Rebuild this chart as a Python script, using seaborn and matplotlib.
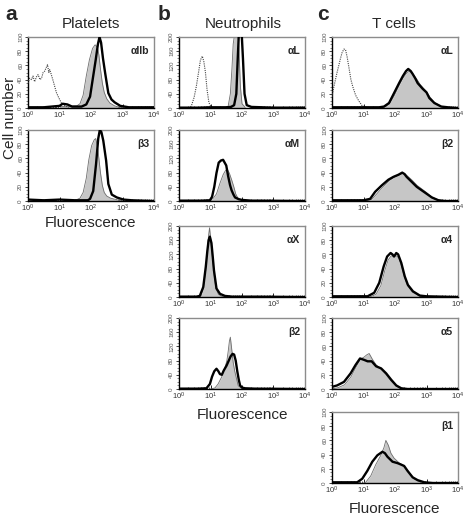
import numpy as np
import seaborn as sns
import matplotlib.pyplot as plt
from matplotlib.ticker import LogLocator, MultipleLocator, NullFormatter

# x values are decades (log10 of fluorescence), y values are cell counts

# --- a: Platelets ---
A1_CTRL_X = [0.0, 0.05, 0.11, 0.16, 0.21, 0.27, 0.32, 0.38, 0.43, 0.48, 0.53, 0.58, 0.62, 0.66,
             0.69, 0.74, 0.80, 0.85, 0.90, 0.96, 1.06, 1.17, 1.3]
A1_CTRL_Y = [35, 42, 40, 45, 37, 44, 47, 40, 42, 50, 52, 57, 61, 50, 54, 47, 38, 30, 22, 16, 7, 3, 1]
A1_GRAY_X = [1.0, 1.55, 1.65, 1.75, 1.85, 1.95, 2.05, 2.13, 2.20, 2.25, 2.30, 2.36, 2.42, 2.5,
             2.6, 2.75, 2.9, 4.0]
A1_GRAY_Y = [2, 3, 6, 18, 45, 68, 84, 89, 86, 75, 55, 35, 22, 13, 7, 3, 1, 0]
A1_BLACK_X = [0.0, 0.5, 1.0, 1.1, 1.25, 1.4, 1.7, 1.85, 1.97, 2.07, 2.15, 2.22, 2.27, 2.32, 2.38,
              2.45, 2.55, 2.65, 2.75, 2.93, 3.2, 4.0]
A1_BLACK_Y = [1, 1, 3, 6, 5, 2, 2, 5, 16, 45, 68, 90, 100, 92, 70, 49, 21, 12, 8, 3, 1, 1]

A2_GRAY_X = [1.5, 1.65, 1.75, 1.85, 1.93, 2.02, 2.1, 2.15, 2.2, 2.25, 2.3, 2.36, 2.42, 2.5, 2.62,
             2.8, 3.0]
A2_GRAY_Y = [1, 4, 12, 32, 58, 78, 86, 88, 78, 60, 40, 22, 12, 7, 4, 2, 0]
A2_BLACK_X = [0.0, 0.5, 1.0, 1.5, 1.9, 1.97, 2.07, 2.16, 2.23, 2.28, 2.33, 2.39, 2.48, 2.55, 2.66,
              2.82, 3.03, 3.3, 4.0]
A2_BLACK_Y = [2, 1, 2, 1, 1, 3, 14, 52, 88, 100, 97, 85, 57, 24, 9, 5, 2, 1, 0]

# --- b: Neutrophils ---
B1_CTRL_X = [0.3, 0.39, 0.48, 0.55, 0.62, 0.68, 0.74, 0.79, 0.84, 0.89, 0.95, 1.02, 1.1]
B1_CTRL_Y = [0, 5, 30, 61, 100, 135, 146, 130, 100, 52, 15, 3, 0]
B1_GRAY_X = [1.45, 1.56, 1.63, 1.68, 1.72, 1.76, 1.8, 1.85, 1.88, 1.91, 1.95, 2.0, 2.1]
B1_GRAY_Y = [1, 5, 40, 110, 180, 205, 205, 200, 205, 150, 60, 12, 2]
B1_BLACK_X = [0.0, 0.6, 1.0, 1.5, 1.65, 1.75, 1.82, 1.86, 1.9, 1.95, 1.99, 2.03, 2.08, 2.15, 2.3,
              3.0, 4.0]
B1_BLACK_Y = [1, 1, 2, 2, 3, 8, 40, 130, 210, 210, 210, 140, 40, 8, 3, 1, 1]

B2_GRAY_X = [0.95, 1.09, 1.19, 1.3, 1.4, 1.47, 1.53, 1.6, 1.67, 1.74, 1.8, 1.87, 1.99, 2.2]
B2_GRAY_Y = [0, 8, 20, 50, 74, 85, 90, 78, 60, 40, 20, 8, 3, 0]
B2_BLACK_X = [0.0, 0.7, 0.98, 1.05, 1.12, 1.19, 1.26, 1.33, 1.4, 1.45, 1.5, 1.56, 1.62, 1.67, 1.73,
              1.78, 1.9, 2.0, 2.3, 2.6, 4.0]
B2_BLACK_Y = [1, 1, 2, 12, 40, 79, 108, 114, 116, 108, 100, 70, 45, 30, 18, 10, 5, 3, 1, 1, 0]

B3_GRAY_X = [0.6, 0.7, 0.78, 0.85, 0.9, 0.94, 0.97, 1.0, 1.04, 1.08, 1.12, 1.17, 1.25, 1.35, 1.5]
B3_GRAY_Y = [0, 5, 25, 75, 130, 175, 195, 170, 130, 95, 60, 25, 8, 2, 0]
B3_BLACK_X = [0.0, 0.55, 0.66, 0.77, 0.85, 0.9, 0.94, 0.98, 1.03, 1.07, 1.11, 1.19, 1.3, 1.46, 1.7,
              2.5, 4.0]
B3_BLACK_Y = [1, 1, 3, 28, 85, 130, 160, 170, 152, 115, 75, 24, 9, 3, 1, 1, 0]

B4_GRAY_X = [1.0, 1.14, 1.24, 1.35, 1.46, 1.52, 1.56, 1.6, 1.63, 1.67, 1.72, 1.77, 1.81, 1.88,
             1.99, 2.2]
B4_GRAY_Y = [0, 3, 14, 33, 60, 80, 105, 135, 146, 115, 75, 50, 35, 9, 2, 0]
B4_BLACK_X = [0.0, 0.6, 0.87, 0.98, 1.05, 1.12, 1.19, 1.25, 1.3, 1.36, 1.42, 1.51, 1.58, 1.64, 1.7,
              1.75, 1.8, 1.85, 1.9, 1.94, 2.0, 2.1, 2.4, 4.0]
B4_BLACK_Y = [1, 1, 2, 14, 35, 50, 57, 50, 42, 40, 52, 66, 80, 92, 99, 97, 80, 50, 25, 10, 4, 2, 1, 0]

# --- c: T cells ---
C1_CTRL_X = [0.0, 0.05, 0.11, 0.16, 0.21, 0.27, 0.32, 0.38, 0.43, 0.48, 0.53, 0.6, 0.66, 0.75,
             0.85, 0.96, 1.12, 1.4]
C1_CTRL_Y = [16, 28, 40, 50, 59, 70, 78, 83, 82, 72, 59, 40, 30, 18, 10, 3, 1, 0]
C1_GRAY_X = [1.6, 1.81, 1.97, 2.13, 2.25, 2.35, 2.45, 2.52, 2.6, 2.7, 2.8, 2.9, 3.0, 3.1, 3.25,
             3.47, 3.7]
C1_GRAY_Y = [0, 5, 17, 32, 42, 48, 52, 50, 46, 40, 33, 28, 23, 16, 8, 2, 0]
C1_BLACK_X = [0.0, 0.5, 1.0, 1.5, 1.65, 1.81, 1.97, 2.13, 2.25, 2.35, 2.42, 2.5, 2.56, 2.64, 2.72,
              2.88, 3.0, 3.09, 3.25, 3.47, 3.68, 4.0]
C1_BLACK_Y = [1, 1, 1, 1, 2, 7, 21, 35, 45, 52, 55, 52, 48, 42, 35, 27, 22, 14, 7, 2, 1, 0]

C2_GRAY_X = [1.05, 1.25, 1.4, 1.6, 1.8, 1.95, 2.1, 2.2, 2.3, 2.4, 2.55, 2.7, 2.85, 3.0, 3.15,
             3.35, 3.55]
C2_GRAY_Y = [0, 2, 9, 19, 28, 33, 36, 38, 39, 35, 29, 22, 17, 12, 6, 2, 0]
C2_BLACK_X = [0.0, 0.5, 1.0, 1.21, 1.37, 1.58, 1.79, 1.95, 2.11, 2.23, 2.3, 2.37, 2.53, 2.69, 2.85,
              3.01, 3.17, 3.38, 3.6, 4.0]
C2_BLACK_Y = [1, 1, 1, 3, 13, 22, 30, 34, 37, 40, 38, 34, 27, 20, 15, 10, 5, 1, 0, 0]

C3_GRAY_X = [1.2, 1.4, 1.55, 1.68, 1.78, 1.88, 1.97, 2.05, 2.12, 2.2, 2.3, 2.4, 2.55, 2.75, 2.95]
C3_GRAY_Y = [0, 4, 16, 38, 52, 58, 57, 58, 55, 45, 28, 16, 7, 2, 0]
C3_BLACK_X = [0.0, 0.5, 1.0, 1.13, 1.34, 1.5, 1.64, 1.75, 1.86, 1.92, 1.97, 2.04, 2.1, 2.2, 2.31,
              2.41, 2.57, 2.79, 3.0, 4.0]
C3_BLACK_Y = [1, 1, 1, 1, 6, 20, 43, 57, 62, 60, 57, 62, 60, 48, 29, 17, 8, 2, 1, 0]

C4_GRAY_X = [0.0, 0.2, 0.4, 0.6, 0.75, 0.9, 1.02, 1.1, 1.18, 1.28, 1.4, 1.56, 1.72, 1.88, 2.04,
             2.2, 2.4]
C4_GRAY_Y = [0, 2, 6, 17, 30, 42, 45, 48, 50, 42, 34, 28, 20, 11, 4, 1, 0]
C4_BLACK_X = [0.0, 0.16, 0.38, 0.59, 0.75, 0.89, 1.02, 1.13, 1.26, 1.4, 1.56, 1.72, 1.88, 2.04,
              2.2, 2.4, 3.0, 4.0]
C4_BLACK_Y = [3, 5, 10, 22, 34, 43, 41, 39, 39, 32, 29, 22, 13, 5, 1, 0, 0, 0]

C5_GRAY_X = [1.0, 1.07, 1.23, 1.39, 1.55, 1.65, 1.71, 1.79, 1.87, 1.97, 2.14, 2.29, 2.45, 2.61,
             2.77, 2.95]
C5_GRAY_Y = [0, 1, 10, 26, 39, 50, 60, 53, 42, 35, 28, 24, 15, 6, 2, 0]
C5_BLACK_X = [0.0, 0.5, 0.8, 0.96, 1.12, 1.28, 1.44, 1.6, 1.68, 1.76, 1.92, 2.08, 2.19, 2.29, 2.4,
              2.56, 2.72, 2.93, 3.2, 4.0]
C5_BLACK_Y = [1, 1, 1, 6, 17, 30, 39, 44, 42, 37, 30, 28, 26, 24, 17, 8, 4, 1, 0, 0]

W, H = 468, 520
COL_LEFT = {"a": 28, "b": 179, "c": 332}
ROW_TOP = [37, 130, 226, 318, 412]
AX_W, AX_H = 126, 71


def add_panel(fig, col, row, label, ymax, ystep, gray, black, ctrl=None):
    left = COL_LEFT[col] / W
    bottom = 1 - (ROW_TOP[row] + AX_H) / H
    ax = fig.add_axes([left, bottom, AX_W / W, AX_H / H])

    gx = 10 ** np.array(gray[0])
    ax.fill_between(gx, gray[1], color="#c6c6c6", lw=0, zorder=1)
    ax.plot(gx, gray[1], color="#6e6e6e", lw=0.6, zorder=2)
    if ctrl is not None:
        sns.lineplot(x=10 ** np.array(ctrl[0]), y=ctrl[1], ax=ax, color="#444444",
                     lw=0.8, linestyle=(0, (1, 1)), sort=False, zorder=3)
    sns.lineplot(x=10 ** np.array(black[0]), y=black[1], ax=ax, color="black",
                 lw=1.7, sort=False, zorder=4)

    ax.set_xscale("log")
    ax.set_xlim(1, 1e4)
    ax.set_ylim(0, ymax)
    ax.xaxis.set_major_locator(LogLocator(base=10, numticks=10))
    ax.xaxis.set_minor_locator(LogLocator(base=10, subs=np.arange(2, 10), numticks=10))
    ax.xaxis.set_minor_formatter(NullFormatter())
    ax.yaxis.set_major_locator(MultipleLocator(ystep))
    ax.yaxis.set_minor_locator(MultipleLocator(ystep / 4))
    ax.tick_params(axis="x", which="major", labelsize=5.5, length=3, width=0.6,
                   direction="in", pad=1.5, colors="black", labelcolor="#333333")
    ax.tick_params(axis="x", which="minor", length=1.8, width=0.5, direction="in")
    ax.tick_params(axis="y", which="major", labelsize=4.5, length=2.5, width=0.6,
                   direction="out", pad=1, labelrotation=90, labelcolor="#555555")
    ax.tick_params(axis="y", which="minor", length=1.3, width=0.4, direction="out")
    for lab in ax.get_yticklabels():
        lab.set_va("center")
    ax.set_xlabel("")
    ax.set_ylabel("")
    for side in ["top", "right"]:
        ax.spines[side].set_color("#8c8c8c")
        ax.spines[side].set_linewidth(1.0)
    for side in ["left", "bottom"]:
        ax.spines[side].set_color("black")
        ax.spines[side].set_linewidth(1.0)
    ax.text(0.96, 0.88, label, transform=ax.transAxes, ha="right", va="top",
            fontsize=7.5, fontweight="bold")
    return ax


def main():
    sns.set_style("ticks")
    plt.rcParams["font.family"] = ["Liberation Sans", "DejaVu Sans"]
    plt.rcParams["mathtext.fontset"] = "custom"
    plt.rcParams["mathtext.rm"] = "Liberation Sans"
    plt.rcParams["mathtext.default"] = "regular"

    fig = plt.figure(figsize=(W / 100, H / 100), dpi=100)

    add_panel(fig, "a", 0, "αIIb", 100, 20, (A1_GRAY_X, A1_GRAY_Y), (A1_BLACK_X, A1_BLACK_Y),
              (A1_CTRL_X, A1_CTRL_Y))
    add_panel(fig, "a", 1, "β3", 100, 20, (A2_GRAY_X, A2_GRAY_Y), (A2_BLACK_X, A2_BLACK_Y))

    add_panel(fig, "b", 0, "αL", 200, 40, (B1_GRAY_X, B1_GRAY_Y), (B1_BLACK_X, B1_BLACK_Y),
              (B1_CTRL_X, B1_CTRL_Y))
    add_panel(fig, "b", 1, "αM", 200, 40, (B2_GRAY_X, B2_GRAY_Y), (B2_BLACK_X, B2_BLACK_Y))
    add_panel(fig, "b", 2, "αX", 200, 40, (B3_GRAY_X, B3_GRAY_Y), (B3_BLACK_X, B3_BLACK_Y))
    add_panel(fig, "b", 3, "β2", 200, 40, (B4_GRAY_X, B4_GRAY_Y), (B4_BLACK_X, B4_BLACK_Y))

    add_panel(fig, "c", 0, "αL", 100, 20, (C1_GRAY_X, C1_GRAY_Y), (C1_BLACK_X, C1_BLACK_Y),
              (C1_CTRL_X, C1_CTRL_Y))
    add_panel(fig, "c", 1, "β2", 100, 20, (C2_GRAY_X, C2_GRAY_Y), (C2_BLACK_X, C2_BLACK_Y))
    add_panel(fig, "c", 2, "α4", 100, 20, (C3_GRAY_X, C3_GRAY_Y), (C3_BLACK_X, C3_BLACK_Y))
    add_panel(fig, "c", 3, "α5", 100, 20, (C4_GRAY_X, C4_GRAY_Y), (C4_BLACK_X, C4_BLACK_Y))
    add_panel(fig, "c", 4, "β1", 100, 20, (C5_GRAY_X, C5_GRAY_Y), (C5_BLACK_X, C5_BLACK_Y))

    # panel letters and titles
    for letter, x in [("a", 5), ("b", 158), ("c", 317)]:
        fig.text(x / W, 1 - 14 / H, letter, fontsize=15, fontweight="bold",
                 ha="left", va="center")
    for title, x in [("Platelets", 91), ("Neutrophils", 243), ("T cells", 394)]:
        fig.text(x / W, 1 - 24 / H, title, fontsize=11, ha="center", va="center")

    # axis labels
    fig.text(10 / W, 1 - 118 / H, "Cell number", fontsize=11, rotation=90,
             ha="center", va="center")
    for x, y in [(91, 223), (242, 415), (394, 509)]:
        fig.text(x / W, 1 - y / H, "Fluorescence", fontsize=11, ha="center", va="center")

    fig.savefig("out.png", dpi=100)


if __name__ == "__main__":
    main()
